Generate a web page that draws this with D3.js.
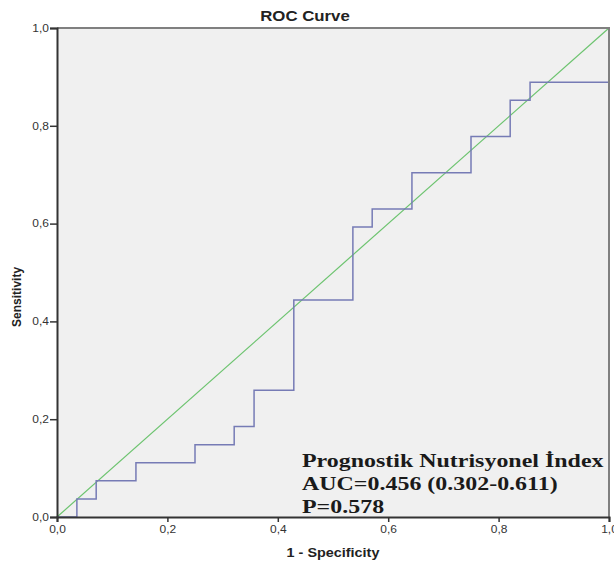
<!DOCTYPE html>
<html>
<head>
<meta charset="utf-8">
<script src="https://cdn.jsdelivr.net/npm/d3@7"></script>
<style>
  body { margin: 0; background: #fff; }
  .tick text { font-family: "Liberation Sans", Arial, sans-serif; font-size: 10px; fill: #333; }
</style>
</head>
<body>
<div id="chart"></div>
<script>
// ROC curve points (1 - specificity, sensitivity), drawn as steps
var fpr = [0, 0.036, 0.071, 0.143, 0.25, 0.321, 0.357, 0.429, 0.536, 0.571, 0.643, 0.75, 0.821, 0.857, 1.0];
var tpr = [0, 0.037, 0.074, 0.111, 0.148, 0.185, 0.259, 0.444, 0.593, 0.630, 0.704, 0.778, 0.852, 0.889, 0.889];

// reference line
var refX = [0, 1];
var refY = [0, 1];

var tickValues = [0, 0.2, 0.4, 0.6, 0.8, 1.0];
var tickLabels = ["0,0", "0,2", "0,4", "0,6", "0,8", "1,0"];

var noteLines = ["Prognostik Nutrisyonel İndex", "AUC=0.456 (0.302-0.611)", "P=0.578"];

// the original picture is stretched sideways, so flat text gets widened
var stretch = 1.2;

// dimensions
var margin = {top: 28, right: 5, bottom: 49, left: 57},
    width = 614 - margin.left - margin.right,
    height = 566 - margin.top - margin.bottom;

var x = d3.scaleLinear().domain([0, 1]).range([0, width]);
var y = d3.scaleLinear().domain([0, 1]).range([height, 0]);

var svg = d3.select("#chart").append("svg")
    .attr("width", 614)
    .attr("height", 566)
    .style("display", "block");

var g = svg.append("g")
    .attr("transform", "translate(" + margin.left + "," + margin.top + ")");

// plot background
g.append("rect")
    .attr("width", x(1))
    .attr("height", y(0))
    .attr("fill", "#f0f0f0");

// diagonal reference
var refData = refX.map(function(d, i) { return {x: d, y: refY[i]}; });
g.append("path")
    .datum(refData)
    .attr("fill", "none")
    .attr("stroke", "#6cc36f")
    .attr("stroke-width", 1.2)
    .attr("d", d3.line().x(function(d) { return x(d.x); }).y(function(d) { return y(d.y); }));

// roc step line
var rocData = fpr.map(function(d, i) { return {x: d, y: tpr[i]}; });
g.append("path")
    .datum(rocData)
    .attr("fill", "none")
    .attr("stroke", "#767bb5")
    .attr("stroke-width", 1.5)
    .attr("d", d3.line().curve(d3.curveStepAfter)
        .x(function(d) { return x(d.x); })
        .y(function(d) { return y(d.y); }));

// top and right frame
g.append("path")
    .attr("fill", "none")
    .attr("stroke", "#808080")
    .attr("stroke-width", 2)
    .attr("d", "M0," + y(1) + "H" + x(1) + "V" + y(0));

// axes
var xAxis = g.append("g")
    .attr("transform", "translate(0," + y(0) + ")")
    .call(d3.axisBottom(x).tickValues(tickValues).tickSize(5).tickPadding(4)
        .tickFormat(function(d, i) { return tickLabels[i]; }));

var yAxis = g.append("g")
    .call(d3.axisLeft(y).tickValues(tickValues).tickSize(7).tickPadding(2)
        .tickFormat(function(d, i) { return tickLabels[i]; }));

[xAxis, yAxis].forEach(function(a) {
    a.select(".domain").attr("stroke", "#333").attr("stroke-width", 2);
    a.selectAll(".tick line").attr("stroke", "#333").attr("stroke-width", 1.5);
    a.selectAll(".tick text").attr("transform", "scale(" + stretch + ",1)");
});
yAxis.selectAll(".tick text").attr("x", -8 / stretch);

// title
svg.append("g")
    .attr("transform", "translate(305,21) scale(" + stretch + ",1)")
    .append("text")
    .attr("text-anchor", "middle")
    .style("font-family", "Liberation Sans, Arial, sans-serif")
    .style("font-weight", "bold")
    .style("font-size", "14px")
    .style("fill", "#222")
    .text("ROC Curve");

// x axis label
svg.append("g")
    .attr("transform", "translate(" + (margin.left + x(0.5)) + ",557) scale(" + stretch + ",1)")
    .append("text")
    .attr("text-anchor", "middle")
    .style("font-family", "Liberation Sans, Arial, sans-serif")
    .style("font-weight", "bold")
    .style("font-size", "12px")
    .style("fill", "#222")
    .text("1 - Specificity");

// y axis label
svg.append("text")
    .attr("transform", "translate(21," + (margin.top + y(0.45)) + ") rotate(-90)")
    .attr("text-anchor", "middle")
    .style("font-family", "Liberation Sans, Arial, sans-serif")
    .style("font-weight", "bold")
    .style("font-size", "12px")
    .style("fill", "#222")
    .text("Sensitivity");

// annotation
var note = svg.append("g")
    .attr("transform", "translate(302,467) scale(1.26,1)")
    .append("text")
    .style("font-family", "Liberation Serif, Times New Roman, serif")
    .style("font-weight", "bold")
    .style("font-size", "19px")
    .style("fill", "#1a1a1a");

note.selectAll("tspan")
    .data(noteLines)
    .enter().append("tspan")
    .attr("x", 0)
    .attr("dy", function(d, i) { return i === 0 ? 0 : 23; })
    .text(function(d) { return d; });
</script>
</body>
</html>
